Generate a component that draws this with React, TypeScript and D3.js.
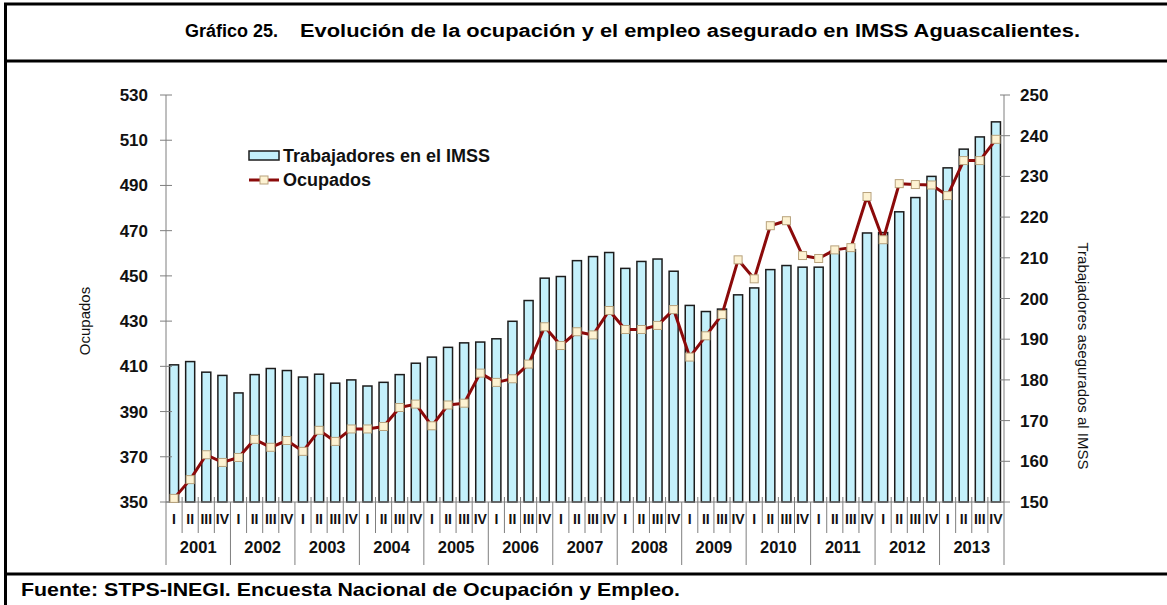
import { useEffect, useRef } from "react";
import * as d3 from "d3";

const YEARS = ["2001","2002","2003","2004","2005","2006","2007","2008","2009","2010","2011","2012","2013"];
const QUARTERS = ["I","II","III","IV"];

// Trabajadores asegurados al IMSS (miles) - eje derecho
const IMSS = [
  183.7,184.5,181.9,181.1, 176.8,181.3,182.8,182.3, 180.7,181.4,179.2,180.0,
  178.5,179.4,181.3,184.1, 185.6,188.0,189.1,189.3, 190.1,194.4,199.5,205.0,
  205.4,209.3,210.3,211.3, 207.4,209.1,209.7,206.7, 198.3,196.8,197.4,200.9,
  202.6,207.1,208.1,207.7, 207.7,211.6,212.0,216.1, 216.2,221.3,224.8,230.0,
  232.1,236.7,239.7,243.4,
];

// Ocupados (miles) - eje izquierdo
const OCUPADOS = [
  351.6,359.9,370.9,367.5, 369.7,377.7,374.2,377.2, 372.4,381.7,376.8,382.3,
  382.3,383.4,391.8,393.3, 383.7,392.9,393.7,407.0, 402.9,404.5,411.0,427.5,
  419.2,425.3,423.9,434.7, 426.3,426.3,428.1,435.1, 414.1,423.5,432.9,457.1,
  448.7,472.2,474.4,459.0, 457.7,461.5,462.5,485.1, 466.0,490.8,490.4,490.2,
  485.5,501.0,501.0,510.4,
];

const LEFT_TICKS = [350,370,390,410,430,450,470,490,510,530];
const RIGHT_TICKS = [150,160,170,180,190,200,210,220,230,240,250];

const W = 1167, H = 605;
const PX0 = 166, PX1 = 1004, PY0 = 95, PY1 = 502;
const FONT = "Arial, 'Liberation Sans', sans-serif";
const BAR_FILL = "#c4f0fb";
const LINE_COL = "#8b0a0a";
const MARK_FILL = "#fdf2d2";
const AXIS_COL = "#7f7f7f";

export default function App() {
  const svgRef = useRef<SVGSVGElement>(null);

  useEffect(() => {
    if (!svgRef.current) return;
    const svg = d3.select(svgRef.current);
    svg.selectAll("*").remove();

    const keys = YEARS.flatMap(y => QUARTERS.map(q => `${y}-${q}`));
    const x = d3.scaleBand().domain(keys).range([PX0, PX1]).paddingInner(0.44).paddingOuter(0.22);
    const step = x.step();
    const cx = (i: number) => x(keys[i])! + x.bandwidth() / 2;
    const yL = d3.scaleLinear().domain([350, 530]).range([PY1, PY0]);
    const yR = d3.scaleLinear().domain([150, 250]).range([PY1, PY0]);

    // frame
    svg.append("line").attr("x1",5.5).attr("x2",5.5).attr("y1",3).attr("y2",H).attr("stroke","#000").attr("stroke-width",3);
    [4, 61, 574].forEach(yy =>
      svg.append("line").attr("x1",4).attr("x2",W).attr("y1",yy).attr("y2",yy).attr("stroke","#000").attr("stroke-width",3));

    // title
    const tf = "'Liberation Sans Narrow', 'Arial Narrow', Arial, sans-serif";
    svg.append("text").attr("x",185).attr("y",37).attr("font-family",tf).attr("font-weight","700").attr("font-size",18)
      .attr("textLength",93).attr("lengthAdjust","spacingAndGlyphs").text("Gráfico 25.");
    svg.append("text").attr("x",300).attr("y",37).attr("font-family",tf).attr("font-weight","700").attr("font-size",18)
      .attr("textLength",780).attr("lengthAdjust","spacingAndGlyphs")
      .text("Evolución de la ocupación y el empleo asegurado en IMSS Aguascalientes.");

    // footer
    svg.append("text").attr("x",21).attr("y",596).attr("font-family",FONT).attr("font-weight","700").attr("font-size",19)
      .attr("textLength",659).attr("lengthAdjust","spacingAndGlyphs")
      .text("Fuente: STPS-INEGI. Encuesta Nacional de Ocupación y Empleo.");

    // bars
    svg.append("g").selectAll("rect").data(IMSS).join("rect")
      .attr("x",(_,i)=>x(keys[i])!).attr("y",d=>yR(d))
      .attr("width",x.bandwidth()).attr("height",d=>PY1-yR(d))
      .attr("fill",BAR_FILL).attr("stroke","#1c1c1c").attr("stroke-width",1.5);

    // category separators
    const sep = svg.append("g").attr("stroke",AXIS_COL).attr("stroke-width",1);
    d3.range(keys.length + 1).forEach(i => {
      const xx = PX0 + i * step;
      const isYear = i % 4 === 0;
      sep.append("line").attr("x1",xx).attr("x2",xx).attr("y1",isYear ? PY1 : 497).attr("y2",isYear ? 565 : 533);
    });

    // axes
    svg.append("line").attr("x1",PX0).attr("x2",PX0).attr("y1",PY0).attr("y2",PY1).attr("stroke",AXIS_COL);
    svg.append("line").attr("x1",PX1).attr("x2",PX1).attr("y1",PY0).attr("y2",PY1).attr("stroke",AXIS_COL);
    svg.append("line").attr("x1",PX0).attr("x2",PX1).attr("y1",PY1).attr("y2",PY1).attr("stroke",AXIS_COL);

    const gl = svg.append("g");
    LEFT_TICKS.forEach(t => {
      gl.append("line").attr("x1",160).attr("x2",172).attr("y1",yL(t)).attr("y2",yL(t)).attr("stroke",AXIS_COL);
      gl.append("text").attr("x",148).attr("y",yL(t)+6).attr("text-anchor","end")
        .attr("font-family",FONT).attr("font-weight","700").attr("font-size",17).attr("fill","#111").text(t);
    });
    const gr = svg.append("g");
    RIGHT_TICKS.forEach(t => {
      gr.append("line").attr("x1",1000).attr("x2",1010).attr("y1",yR(t)).attr("y2",yR(t)).attr("stroke",AXIS_COL);
      gr.append("text").attr("x",1020).attr("y",yR(t)+6)
        .attr("font-family",FONT).attr("font-weight","700").attr("font-size",17).attr("fill","#111").text(t);
    });

    svg.append("text").attr("transform","translate(90,321) rotate(-90)").attr("text-anchor","middle")
      .attr("font-family",FONT).attr("font-size",15).attr("fill","#111").text("Ocupados");
    svg.append("text").attr("transform","translate(1078,356) rotate(90)").attr("text-anchor","middle")
      .attr("font-family",FONT).attr("font-size",15).attr("fill","#111").text("Trabajadores asegurados al IMSS");

    // quarter & year labels
    svg.append("g").selectAll("text").data(keys).join("text")
      .attr("x",(_,i)=>cx(i)).attr("y",524).attr("text-anchor","middle")
      .attr("font-family",FONT).attr("font-weight","700").attr("font-size",14).attr("fill","#111")
      .text(d=>d.split("-")[1]);
    svg.append("g").selectAll("text").data(YEARS).join("text")
      .attr("x",(_,i)=>PX0 + (i*4+2)*step).attr("y",553).attr("text-anchor","middle")
      .attr("font-family",FONT).attr("font-weight","700").attr("font-size",16.5).attr("fill","#111")
      .text(d=>d);

    // line
    const line = d3.line<number>().x((_,i)=>cx(i)).y(d=>yL(d));
    svg.append("path").datum(OCUPADOS).attr("d",line).attr("fill","none")
      .attr("stroke",LINE_COL).attr("stroke-width",3).attr("stroke-linejoin","round");
    svg.append("g").selectAll("rect").data(OCUPADOS).join("rect")
      .attr("x",(_,i)=>cx(i)-4).attr("y",d=>yL(d)-4).attr("width",8).attr("height",8)
      .attr("fill",MARK_FILL).attr("stroke","#b8a27c").attr("stroke-width",1);

    // legend
    const lg = svg.append("g").attr("font-family",FONT).attr("font-weight","700").attr("font-size",18).attr("fill","#111");
    lg.append("rect").attr("x",249).attr("y",151).attr("width",30).attr("height",9)
      .attr("fill",BAR_FILL).attr("stroke","#1c1c1c").attr("stroke-width",1.5);
    lg.append("text").attr("x",283).attr("y",162).text("Trabajadores en el IMSS");
    lg.append("line").attr("x1",249).attr("x2",279).attr("y1",180).attr("y2",180).attr("stroke",LINE_COL).attr("stroke-width",3);
    lg.append("rect").attr("x",260).attr("y",176).attr("width",8).attr("height",8)
      .attr("fill",MARK_FILL).attr("stroke","#b8a27c").attr("stroke-width",1);
    lg.append("text").attr("x",283).attr("y",186).text("Ocupados");
  }, []);

  return (
    <svg ref={svgRef} width={W} height={H}
      style={{ position: "absolute", left: 0, top: 0, background: "#fff" }} />
  );
}
